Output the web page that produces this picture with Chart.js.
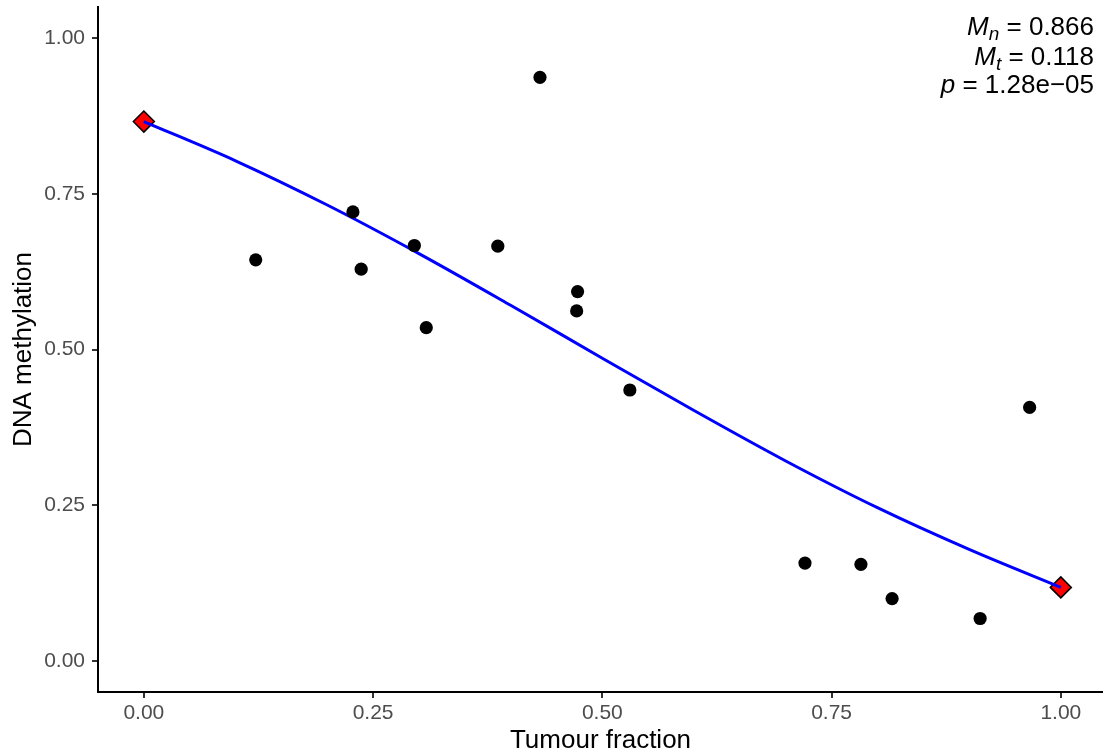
<!DOCTYPE html>
<html><head><meta charset="utf-8">
<script src="https://cdn.jsdelivr.net/npm/chart.js@4/dist/chart.umd.min.js"></script>
<style>html,body{margin:0;padding:0;background:#fff}canvas{display:block}</style>
</head><body>
<canvas id="c" width="1103" height="756"></canvas>
<script>
// Observed samples
const sampleX = [0.122, 0.228, 0.237, 0.295, 0.308, 0.386, 0.432, 0.473, 0.472, 0.530, 0.721, 0.782, 0.816, 0.912, 0.966];
const sampleY = [0.644, 0.721, 0.629, 0.667, 0.535, 0.666, 0.937, 0.593, 0.562, 0.435, 0.157, 0.155, 0.100, 0.068, 0.407];
// Fitted endpoints (normal / tumour)
const endpointX = [0, 1];
const endpointY = [0.866, 0.118];
// Fitted curve
const curveX = [0, 0.1, 0.2, 0.3, 0.4, 0.5, 0.6, 0.7, 0.8, 0.9, 1.0];
const curveY = [0.866, 0.803, 0.732, 0.654, 0.571, 0.486, 0.402, 0.321, 0.246, 0.179, 0.118];
// Axes
const xTickValues = [0, 0.25, 0.5, 0.75, 1];
const xTickLabels = ['0.00', '0.25', '0.50', '0.75', '1.00'];
const yTickValues = [0, 0.25, 0.5, 0.75, 1];
const yTickLabels = ['0.00', '0.25', '0.50', '0.75', '1.00'];
const xTitle = 'Tumour fraction';
const yTitle = 'DNA methylation';
// Annotation
const statNames = ['M', 'M', 'p'];
const statSubs = ['n', 't', ''];
const statValues = ['0.866', '0.118', '1.28e\u221205'];

const FAM = "'Liberation Sans', Arial, Helvetica, sans-serif";

const annotationPlugin = {
  id: 'anno',
  afterDraw(chart) {
    const ctx = chart.ctx;
    ctx.save();
    const right = chart.chartArea.right - 9;
    const top = chart.chartArea.top;
    const baselines = [top + 28, top + 57.5, top + 86];
    const big = '26px ' + FAM;
    const bigI = 'italic 26px ' + FAM;
    const small = 'italic 19px ' + FAM;
    ctx.fillStyle = '#000';
    ctx.textBaseline = 'alphabetic';
    ctx.textAlign = 'left';
    for (let i = 0; i < statNames.length; i++) {
      const parts = [
        { t: statNames[i], f: bigI, dy: 0 },
        { t: statSubs[i], f: small, dy: 5 },
        { t: ' = ' + statValues[i], f: big, dy: 0 }
      ];
      let total = 0;
      parts.forEach(p => { ctx.font = p.f; p.w = ctx.measureText(p.t).width; total += p.w; });
      let x = right - total;
      parts.forEach(p => { ctx.font = p.f; ctx.fillText(p.t, x, baselines[i] + p.dy); x += p.w; });
    }
    ctx.restore();
  }
};

const pts = (xs, ys) => xs.map((x, i) => ({ x: x, y: ys[i] }));

new Chart(document.getElementById('c'), {
  type: 'scatter',
  data: {
    datasets: [
      {
        label: 'samples',
        data: pts(sampleX, sampleY),
        backgroundColor: '#000',
        borderColor: '#000',
        borderWidth: 0,
        pointRadius: 6.6,
        pointHoverRadius: 6.6,
        order: 0,
        clip: false
      },
      {
        label: 'fit',
        type: 'line',
        data: pts(curveX, curveY),
        borderColor: '#0000FF',
        borderWidth: 3,
        pointRadius: 0,
        fill: false,
        showLine: true,
        cubicInterpolationMode: 'monotone',
        order: 1,
        clip: false
      },
      {
        label: 'endpoints',
        data: pts(endpointX, endpointY),
        pointStyle: 'rectRot',
        backgroundColor: '#FF0000',
        borderColor: '#000',
        borderWidth: 1.5,
        pointRadius: 10.5,
        pointHoverRadius: 10.5,
        order: 2,
        clip: false
      }
    ]
  },
  options: {
    responsive: false,
    animation: false,
    events: [],
    layout: { autoPadding: false, padding: { top: 7, right: 0, left: 0, bottom: 0 } },
    plugins: { legend: { display: false }, tooltip: { enabled: false } },
    scales: {
      x: {
        type: 'linear',
        min: -0.05,
        max: 1.046,
        afterBuildTicks: s => { s.ticks = xTickValues.map(v => ({ value: v })); },
        afterFit: s => { s.height = 64; s.paddingLeft = 0; s.paddingRight = 0; },
        ticks: {
          callback: v => xTickLabels[xTickValues.indexOf(v)],
          color: '#4D4D4D',
          font: { family: FAM, size: 21 },
          padding: 3,
          maxRotation: 0,
          autoSkip: false
        },
        grid: { drawOnChartArea: false, drawTicks: true, tickLength: 6, color: '#333333', lineWidth: 2 },
        border: { display: true, color: '#000', width: 2 },
        title: { display: true, text: xTitle, color: '#000', font: { family: FAM, size: 26, lineHeight: 1 }, padding: { top: 0, bottom: 2 } }
      },
      y: {
        type: 'linear',
        min: -0.05,
        max: 1.05,
        afterBuildTicks: s => { s.ticks = yTickValues.map(v => ({ value: v })); },
        afterFit: s => { s.width = 98; s.paddingTop = 0; s.paddingBottom = 0; },
        ticks: {
          callback: v => yTickLabels[yTickValues.indexOf(v)],
          color: '#4D4D4D',
          font: { family: FAM, size: 21 },
          padding: 7,
          autoSkip: false
        },
        grid: { drawOnChartArea: false, drawTicks: true, tickLength: 6, color: '#333333', lineWidth: 2 },
        border: { display: true, color: '#000', width: 2 },
        title: { display: true, text: yTitle, color: '#000', font: { family: FAM, size: 26, lineHeight: 1 }, padding: { top: 11, bottom: 0 } }
      }
    }
  },
  plugins: [annotationPlugin]
});
</script>
</body></html>
